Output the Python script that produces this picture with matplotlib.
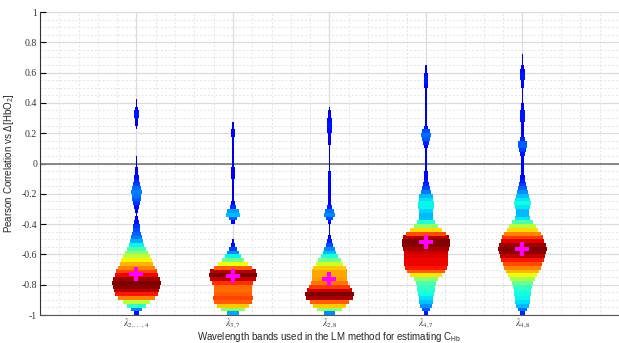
import matplotlib
matplotlib.use('Agg')
import matplotlib.pyplot as plt
import numpy as np
from matplotlib.ticker import MultipleLocator

plt.rcParams['font.family'] = ['Liberation Sans', 'DejaVu Sans']
plt.rcParams['mathtext.fontset'] = 'custom'
plt.rcParams['mathtext.rm'] = 'Liberation Sans'
plt.rcParams['mathtext.it'] = 'Liberation Sans:italic'

# band labels and mean correlation per band
bands = [r'$\lambda_{2,...,4}$', r'$\lambda_{3,7}$', r'$\lambda_{2,8}$', r'$\lambda_{4,7}$', r'$\lambda_{4,8}$']
means = [-0.73, -0.745, -0.76, -0.52, -0.565]

# relative density (0..1) of each band, strips of 0.025 from -1 upward
step = 0.025
dens_1 = [0.10, 0.22, 0.38, 0.55, 0.76, 0.88, 0.95, 0.99, 1.00, 0.97,
          0.90, 0.83, 0.76, 0.70, 0.63, 0.56, 0.49, 0.41, 0.33, 0.26,
          0.21, 0.18, 0.16, 0.13, 0.10, 0.06, 0.03, 0.05, 0.09, 0.13,
          0.17, 0.20, 0.21, 0.19, 0.15, 0.12, 0.09, 0.07, 0.05, 0.03,
          0.02, 0.01, 0, 0, 0, 0, 0, 0, 0, 0.02,
          0.05, 0.08, 0.10, 0.10, 0.08, 0.04, 0.01, 0, 0, 0,
          0, 0, 0, 0, 0, 0, 0, 0, 0, 0]
dens_2 = [0.25, 0.50, 0.68, 0.80, 0.83, 0.80, 0.78, 0.79, 0.85, 0.94,
          1.00, 0.95, 0.80, 0.62, 0.46, 0.33, 0.23, 0.15, 0.09, 0.05,
          0.02, 0.005, 0.005, 0.02, 0.08, 0.18, 0.27, 0.24, 0.13, 0.07,
          0.05, 0.05, 0.04, 0.04, 0.05, 0.06, 0.07, 0.07, 0.07, 0.06,
          0.05, 0.04, 0.03, 0.03, 0.04, 0.05, 0.06, 0.07, 0.07, 0.06,
          0.04, 0.02, 0.01, 0, 0, 0, 0, 0, 0, 0,
          0, 0, 0, 0, 0, 0, 0, 0, 0, 0]
dens_3 = [0.22, 0.50, 0.68, 0.80, 0.96, 1.00, 0.93, 0.84, 0.77, 0.73,
          0.72, 0.72, 0.68, 0.58, 0.46, 0.36, 0.28, 0.22, 0.16, 0.11,
          0.07, 0.04, 0.02, 0.03, 0.08, 0.16, 0.22, 0.20, 0.12, 0.07,
          0.05, 0.05, 0.06, 0.07, 0.08, 0.08, 0.07, 0.06, 0.04, 0.02,
          0.01, 0.005, 0.005, 0.01, 0.03, 0.05, 0.07, 0.08, 0.09, 0.10,
          0.10, 0.09, 0.07, 0.05, 0.02, 0, 0, 0, 0, 0,
          0, 0, 0, 0, 0, 0, 0, 0, 0, 0]
dens_4 = [0.10, 0.17, 0.23, 0.28, 0.31, 0.34, 0.37, 0.39, 0.42, 0.50,
          0.65, 0.80, 0.88, 0.90, 0.90, 0.91, 0.93, 0.96, 0.99, 1.00,
          0.95, 0.82, 0.66, 0.50, 0.37, 0.28, 0.27, 0.30, 0.33, 0.33,
          0.31, 0.27, 0.21, 0.15, 0.12, 0.10, 0.08, 0.07, 0.06, 0.06,
          0.06, 0.06, 0.06, 0.06, 0.08, 0.12, 0.17, 0.19, 0.16, 0.10,
          0.06, 0.05, 0.05, 0.06, 0.06, 0.05, 0.04, 0.03, 0.04, 0.06,
          0.08, 0.10, 0.10, 0.08, 0.05, 0.03, 0.015, 0.005, 0, 0]
dens_5 = [0.12, 0.20, 0.27, 0.31, 0.33, 0.34, 0.36, 0.39, 0.45, 0.53,
          0.62, 0.70, 0.76, 0.82, 0.88, 0.94, 0.98, 1.00, 0.97, 0.91,
          0.84, 0.76, 0.66, 0.55, 0.42, 0.32, 0.27, 0.27, 0.32, 0.34,
          0.32, 0.28, 0.23, 0.18, 0.14, 0.11, 0.09, 0.08, 0.07, 0.06,
          0.06, 0.07, 0.10, 0.14, 0.18, 0.17, 0.12, 0.07, 0.05, 0.06,
          0.08, 0.10, 0.10, 0.10, 0.08, 0.06, 0.04, 0.03, 0.03, 0.04,
          0.06, 0.08, 0.10, 0.10, 0.09, 0.06, 0.04, 0.02, 0.01, 0]
densities = [dens_1, dens_2, dens_3, dens_4, dens_5]

levels = -1 + step * (np.arange(len(dens_1)) + 0.5)
half_width = 0.25
cmap = plt.get_cmap('jet')

fig = plt.figure(figsize=(6.19, 3.43), dpi=100)
ax = fig.add_axes([0.0646, 0.0816, 0.9354, 0.8834])

positions = np.arange(1, len(bands) + 1)
for x, dens in zip(positions, densities):
    d = np.array(dens)
    keep = d > 0
    ax.barh(levels[keep], 2 * half_width * d[keep], left=x - half_width * d[keep],
            height=step * 1.04, color=cmap(0.05 + 0.95 * d[keep]), linewidth=0, zorder=3)

ax.plot(positions, means, 'P', color='#ff00ff', markersize=10, markeredgewidth=0, zorder=4)
ax.axhline(0, color='#808080', linewidth=1.3, zorder=2)

ax.set_xlim(0, 6)
ax.set_ylim(-1, 1)
ax.set_xticks(positions)
ax.set_xticklabels(bands, fontsize=7, math_fontfamily='stix', color='#333333')
ax.set_yticks(np.arange(-1, 1.01, 0.2))
ax.set_yticklabels(['-1', '-0.8', '-0.6', '-0.4', '-0.2', '0', '0.2', '0.4', '0.6', '0.8', '1'],
                   fontsize=7, family='Liberation Serif', color='#333333')
ax.xaxis.set_minor_locator(MultipleLocator(0.2))
ax.yaxis.set_minor_locator(MultipleLocator(0.05))
ax.grid(True, which='major', color='#dcdcdc', linewidth=0.9, zorder=0)
ax.grid(True, which='minor', color='#e4e4e4', linewidth=0.7, linestyle=(0, (2, 2)), zorder=0)
ax.set_axisbelow(True)
ax.tick_params(which='major', direction='in', length=4, width=0.8, pad=2)
ax.tick_params(which='minor', length=0)
ax.tick_params(axis='x', length=0, pad=0.5)
for s in ['top', 'right']:
    ax.spines[s].set_visible(False)
ax.spines['left'].set_color('#333333')
ax.spines['bottom'].set_color('#555555')

ax.set_ylabel(r'Pearson Correlation vs $\Delta$[HbO$_2$]', fontsize=7, color='#262626', labelpad=4)
ax.set_xlabel(r'Wavelength bands used in the LM method for estimating C$_{\rm Hb}$', fontsize=7,
              color='#262626')
ax.xaxis.set_label_coords(0.5, -0.05)

fig.savefig('out.png', dpi=100)
